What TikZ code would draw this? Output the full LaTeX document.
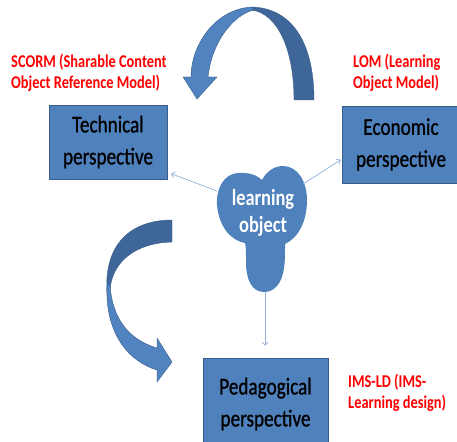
\documentclass[tikz,border=0pt]{standalone}
\usepackage{fontspec}
\setmainfont{Carlito}[FakeStretch=0.8]
\newfontfamily\perspfont{Carlito}[FakeStretch=0.8, FakeBold=0.8]
\usetikzlibrary{arrows.meta,calc}

\definecolor{boxfill}{HTML}{4F81BD}
\definecolor{boxedge}{HTML}{385D8A}
\definecolor{bandfront}{HTML}{5083C0}
\definecolor{bandback}{HTML}{3F6699}
\definecolor{linkblue}{HTML}{8EB0DA}

\begin{document}
\begin{tikzpicture}[x=1pt,y=-1pt,
  persp/.style={draw=boxedge, fill=boxfill, line width=0.8pt, text=black,
    font=\perspfont\fontsize{24}{32}\selectfont, align=center, inner sep=0pt},
  note/.style={text=red, font=\bfseries\fontsize{18}{21}\selectfont,
    align=left, anchor=north west, inner sep=0pt},
  band/.style={draw=boxedge, line width=0.4pt, line join=round},
  link/.style={draw=linkblue, line width=0.7pt,
    -{Straight Barb[length=3pt,width=6pt]}}]

\useasboundingbox (0,0) rectangle (457,441);

% perspective boxes
\node[persp, minimum width=118pt, minimum height=74pt] (tech) at (108,142)
  {Technical\\perspective};
\node[persp, minimum width=118pt, minimum height=77pt] (econ) at (401,144.5)
  {Economic\\perspective};
\node[persp, minimum width=125pt, minimum height=92pt] (peda) at (265.5,404)
  {Pedagogical\\perspective};

% standards labels
\node[note] (scorm) at (11,54) {SCORM (Sharable Content\\Object Reference Model)};
\node[note] (lom) at (353,54) {LOM (Learning\\Object Model)};
\node[note] (imsld) at (348,374) {IMS-LD (IMS-\\Learning design)};

% learning object blob
\fill[boxfill]
  (264,292) .. controls (252,292) and (246,280) .. (246,262)
  .. controls (246,252) and (246,246) .. (245,243)
  .. controls (232,241) and (219,228) .. (217,205)
  .. controls (216,188) and (224,174) .. (238,173)
  .. controls (250,172) and (258,176) .. (262,180)
  .. controls (266,172) and (274,166) .. (283,166)
  .. controls (298,166) and (307,182) .. (307,200)
  .. controls (307,222) and (298,238) .. (285,244)
  .. controls (285,256) and (285,262) .. (284,268)
  .. controls (282,284) and (274,292) .. (264,292) -- cycle;
\node[text=white, font=\bfseries\fontsize{23}{27}\selectfont, align=center,
  inner sep=0pt] (lo) at (263,213) {learning\\object};
\coordinate (lo-left) at (217,191);
\coordinate (lo-right) at (303,184);
\coordinate (lo-bottom) at (265,292);

% connectors
\draw[link, shorten >=4pt] (lo-left) -- (tech.-27);
\draw[link, shorten >=1pt] (lo-right) -- (econ.194);
\draw[link, shorten >=12pt] (lo-bottom) -- (lo-bottom |- peda.north);

% curved arrow over the top: back band, then front band with head
\path[band, fill=bandback]
  (294,100) -- (314,100) .. controls (314,40) and (290,7) .. (250,7)
  -- (252,10) .. controls (278,14) and (294,50) .. (294,100) -- cycle;
\path[band, fill=bandfront]
  (252,7) .. controls (215,9) and (191,45) .. (191,77)
  -- (183,77) -- (197,99) -- (217,77) -- (208,77)
  .. controls (212,40) and (235,14) .. (254,10) -- cycle;

% curved arrow on the left: back band, then front band with head
\path[band, fill=bandback]
  (172,220) -- (172,242) .. controls (135,243) and (112,262) .. (110,290)
  -- (107,292) .. controls (104,245) and (130,220) .. (172,220) -- cycle;
\path[band, fill=bandfront]
  (107,286) .. controls (105,335) and (130,362) .. (157,370)
  -- (157,382) -- (172,362) -- (157,338) -- (157,348)
  .. controls (130,340) and (112,320) .. (110,284) -- cycle;
\end{tikzpicture}
\end{document}
